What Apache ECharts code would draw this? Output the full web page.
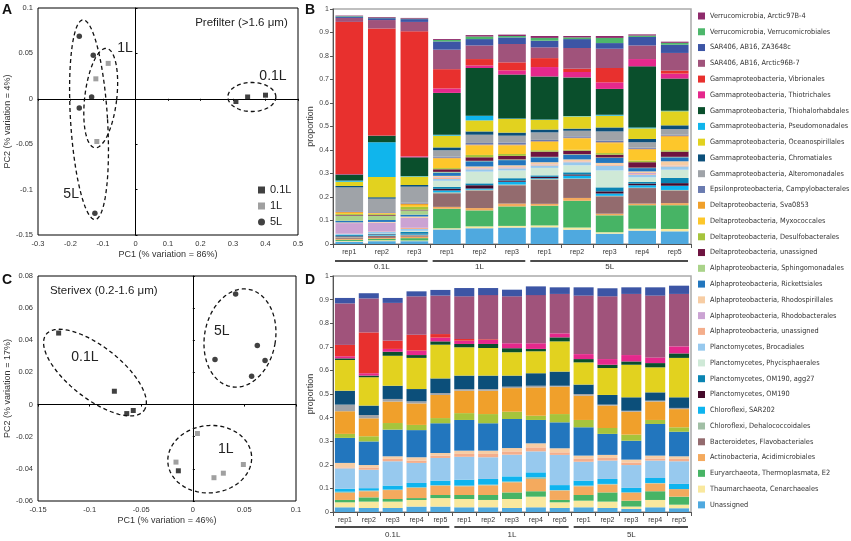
<!DOCTYPE html>
<html><head><meta charset="utf-8">
<script src="https://cdn.jsdelivr.net/npm/echarts@6/dist/echarts.min.js"></script>
<style>html,body{margin:0;padding:0;background:#fff}#c{width:851px;height:541px}</style>
</head><body><div id="c"></div>
<script>
// ---------- taxa (bottom of stack first) ----------
const taxa = [
 'Unassigned','Thaumarchaeota, Cenarchaeales','Euryarchaeota, Thermoplasmata, E2','Actinobacteria, Acidimicrobiales',
 'Bacteroidetes, Flavobacteriales','Chloroflexi, Dehalococcoidales','Chloroflexi, SAR202','Planctomycetes, OM190',
 'Planctomycetes, OM190, agg27','Planctomycetes, Phycisphaerales','Planctomycetes, Brocadiales','Alphaproteobacteria, unassigned',
 'Alphaproteobacteria, Rhodobacterales','Alphaproteobacteria, Rhodospirillales','Alphaproteobacteria, Rickettsiales','Alphaproteobacteria, Sphingomonadales',
 'Deltaproteobacteria, unassigned','Deltaproteobacteria, Desulfobacterales','Deltaproteobacteria, Myxococcales','Deltaproteobacteria, Sva0853',
 'Epsilonproteobacteria, Campylobacterales','Gammaproteobacteria, Alteromonadales','Gammaproteobacteria, Chromatiales','Gammaproteobacteria, Oceanospirillales',
 'Gammaproteobacteria, Pseudomonadales','Gammaproteobacteria, Thiohalorhabdales','Gammaproteobacteria, Thiotrichales','Gammaproteobacteria, Vibrionales',
 'SAR406, AB16, Arctic96B-7','SAR406, AB16, ZA3648c','Verrucomicrobia, Verrucomicrobiales','Verrucomicrobia, Arctic97B-4'];
const taxaColors = [
 '#4fa9df','#f9e89e','#47b465','#f4aa5e','#936b6e','#a1bfa5','#0eb4ef','#450a2a',
 '#0a84b2','#cfe9d7','#97c9ee','#f4ae8c','#cba3d3','#f7cda4','#2276be','#aad38a',
 '#6e1440','#a6c43c','#fdc72b','#f0a02b','#6a7bb0','#9fa3a8','#0c4f7a','#e2d21f',
 '#10b5ec','#0a4f2c','#e5288c','#e8302e','#a0537b','#3c55a5','#4db76b','#8e2a6b'];

// ---------- Panel B: Prefilter (>1.6 um) proportions, one array per sample, taxa order as above ----------
const pre_01L_rep1 = [0.010,0.003,0.005,0.004,0.006,0.002,0.002,0.002,0.004,0.001,0.004,0.001,0.045,0.003,0.007,0.022,0.003,0.004,0.004,0.004,0.003,0.102,0.006,0.018,0.005,0.026,0.002,0.647,0.017,0.006,0.002,0.002];
const pre_01L_rep2 = [0.012,0.004,0.006,0.004,0.008,0.002,0.003,0.002,0.003,0.002,0.005,0.002,0.038,0.003,0.008,0.018,0.003,0.004,0.003,0.003,0.003,0.057,0.006,0.086,0.148,0.028,0.001,0.455,0.036,0.008,0.002,0.003];
const pre_01L_rep3 = [0.012,0.003,0.010,0.006,0.006,0.002,0.003,0.002,0.008,0.004,0.008,0.005,0.042,0.006,0.008,0.018,0.003,0.012,0.008,0.006,0.004,0.068,0.007,0.036,0.002,0.080,0.004,0.532,0.040,0.012,0.002,0.003];
const pre_1L_rep1 = [0.062,0.005,0.083,0.008,0.058,0.004,0.008,0.007,0.008,0.026,0.008,0.004,0.003,0.006,0.014,0.003,0.011,0.005,0.040,0.004,0.005,0.027,0.012,0.050,0.004,0.178,0.019,0.082,0.083,0.035,0.006,0.004];
const pre_1L_rep2 = [0.067,0.008,0.068,0.010,0.075,0.003,0.005,0.014,0.008,0.050,0.010,0.003,0.002,0.007,0.022,0.002,0.015,0.010,0.040,0.004,0.007,0.035,0.014,0.047,0.020,0.203,0.011,0.027,0.058,0.027,0.011,0.006];
const pre_1L_rep3 = [0.070,0.007,0.083,0.012,0.078,0.003,0.012,0.005,0.010,0.033,0.009,0.003,0.002,0.008,0.022,0.003,0.015,0.008,0.036,0.004,0.009,0.029,0.013,0.058,0.002,0.187,0.018,0.034,0.078,0.028,0.006,0.006];
const pre_5L_rep1 = [0.071,0.008,0.084,0.008,0.103,0.003,0.003,0.006,0.006,0.032,0.010,0.003,0.002,0.009,0.021,0.002,0.022,0.006,0.035,0.003,0.006,0.032,0.012,0.041,0.002,0.183,0.040,0.038,0.046,0.028,0.012,0.008];
const pre_5L_rep2 = [0.061,0.009,0.114,0.012,0.081,0.002,0.012,0.005,0.009,0.030,0.013,0.003,0.001,0.008,0.020,0.002,0.015,0.004,0.048,0.003,0.006,0.024,0.009,0.052,0.002,0.164,0.023,0.014,0.088,0.038,0.007,0.006];
const pre_5L_rep3 = [0.044,0.006,0.072,0.007,0.074,0.002,0.010,0.009,0.017,0.072,0.020,0.003,0.001,0.008,0.021,0.002,0.012,0.007,0.042,0.004,0.007,0.039,0.017,0.050,0.004,0.110,0.028,0.061,0.082,0.024,0.022,0.008];
const pre_5L_rep4 = [0.057,0.008,0.100,0.007,0.066,0.002,0.010,0.007,0.007,0.020,0.010,0.003,0.005,0.007,0.014,0.002,0.023,0.007,0.046,0.004,0.005,0.023,0.014,0.045,0.004,0.260,0.031,0.000,0.058,0.036,0.006,0.005];
const pre_5L_rep5 = [0.054,0.010,0.101,0.009,0.054,0.002,0.018,0.011,0.022,0.035,0.014,0.003,0.001,0.018,0.017,0.002,0.022,0.006,0.057,0.005,0.004,0.024,0.016,0.060,0.002,0.137,0.021,0.013,0.075,0.035,0.008,0.005];
const prefilterSamples = ['0.1L|rep1','0.1L|rep2','0.1L|rep3','1L|rep1','1L|rep2','1L|rep3','5L|rep1','5L|rep2','5L|rep3','5L|rep4','5L|rep5'];

// ---------- Panel D: Sterivex (0.2-1.6 um) ----------
const ste_01L_rep1 = [0.020,0.021,0.010,0.030,0,0.005,0.013,0,0,0,0.086,0.004,0,0.019,0.106,0,0,0.017,0,0.096,0,0.028,0.059,0.130,0,0.007,0.009,0.048,0.176,0.023,0,0];
const ste_01L_rep2 = [0.017,0.027,0.018,0.026,0,0.003,0.010,0,0,0,0.078,0.010,0,0.010,0.100,0,0,0.022,0,0.076,0,0.014,0.040,0.120,0,0.007,0.010,0.173,0.144,0.022,0,0];
const ste_01L_rep3 = [0.017,0.027,0.011,0.038,0,0.002,0.017,0,0,0,0.103,0.010,0,0.011,0.113,0,0,0.028,0,0.091,0,0.011,0.056,0.127,0,0.017,0.012,0.035,0.160,0.021,0,0];
const ste_01L_rep4 = [0.023,0.028,0.008,0.043,0,0.003,0.018,0,0,0,0.085,0.010,0,0.014,0.115,0,0,0.022,0,0.091,0,0.009,0.052,0.132,0,0.012,0.019,0.067,0.163,0.021,0,0];
const ste_01L_rep5 = [0.023,0.036,0.013,0.039,0,0.003,0.019,0,0,0,0.096,0.010,0,0.011,0.126,0,0,0.022,0,0.098,0,0.008,0.062,0.143,0,0.014,0.016,0.015,0.163,0.024,0,0];
const ste_1L_rep1 = [0.020,0.035,0.017,0.037,0,0.003,0.025,0,0,0,0.097,0.012,0,0.014,0.130,0,0,0.029,0,0.095,0,0.007,0.057,0.120,0,0.014,0.014,0.007,0.181,0.035,0,0];
const ste_1L_rep2 = [0.020,0.031,0.021,0.041,0,0.003,0.024,0,0,0,0.092,0.014,0,0.014,0.116,0,0,0.039,0,0.099,0,0.007,0.057,0.117,0,0.017,0.017,0.003,0.187,0.030,0,0];
const ste_1L_rep3 = [0.017,0.038,0.028,0.043,0,0.003,0.022,0,0,0,0.092,0.014,0,0.014,0.123,0,0,0.031,0,0.100,0,0.006,0.047,0.099,0,0.017,0.021,0,0.199,0.028,0,0];
const ste_1L_rep4 = [0.020,0.045,0.023,0.052,0,0.007,0.021,0,0,0,0.089,0.017,0,0.017,0.099,0,0,0.018,0,0.120,0,0.007,0.053,0.093,0,0.010,0.024,0,0.204,0.037,0,0];
const ste_1L_rep5 = [0.017,0.024,0.010,0.040,0,0.002,0.021,0,0,0,0.128,0.011,0,0.017,0.110,0,0,0.035,0,0.116,0,0.004,0.060,0.128,0,0.017,0.017,0,0.167,0.028,0,0];
const ste_5L_rep1 = [0.020,0.028,0.024,0.037,0,0.003,0.021,0,0,0,0.080,0.014,0,0.012,0.120,0,0,0.031,0,0.103,0,0.007,0.040,0.094,0,0.014,0.021,0,0.248,0.035,0,0];
const ste_5L_rep2 = [0.017,0.027,0.039,0.033,0,0.003,0.021,0,0,0,0.078,0.011,0,0.013,0.089,0,0,0.025,0,0.095,0,0.004,0.041,0.114,0,0.014,0.024,0,0.266,0.034,0,0];
const ste_5L_rep3 = [0.013,0.010,0.025,0.035,0,0,0.019,0,0,0,0.097,0.011,0,0.012,0.080,0,0,0.026,0,0.097,0,0.004,0.057,0.138,0,0.014,0.027,0,0.259,0.028,0,0];
const ste_5L_rep4 = [0.020,0.031,0.037,0.033,0,0.002,0.021,0,0,0,0.074,0.009,0,0.012,0.134,0,0,0.017,0,0.078,0,0.004,0.035,0.106,0,0.018,0.024,0,0.262,0.035,0,0];
const ste_5L_rep5 = [0.016,0.015,0.034,0.032,0,0,0.022,0,0,0,0.096,0.010,0,0.011,0.104,0,0,0.019,0,0.077,0,0.005,0.045,0.167,0,0.019,0.030,0,0.222,0.035,0,0];
const sterivexSamples = ['0.1L|rep1','0.1L|rep2','0.1L|rep3','0.1L|rep4','0.1L|rep5','1L|rep1','1L|rep2','1L|rep3','1L|rep4','1L|rep5','5L|rep1','5L|rep2','5L|rep3','5L|rep4','5L|rep5'];
const volumeGroups = ['0.1L','1L','5L'];

// ---------- Panel A: PCA Prefilter ----------
const pcaA_01L = [[0.309,-0.003],[0.345,0.002],[0.400,0.004]];
const pcaA_1L  = [[-0.084,0.039],[-0.122,0.022],[-0.119,-0.047]];
const pcaA_5L  = [[-0.173,0.069],[-0.130,0.048],[-0.135,0.002],[-0.173,-0.010],[-0.125,-0.126]];
// ---------- Panel C: PCA Sterivex ----------
const pcaC_01L = [[-0.130,0.0445],[-0.076,0.0083],[-0.064,-0.0056],[-0.0577,-0.0037],[-0.014,-0.0412]];
const pcaC_1L  = [[0.0045,-0.018],[-0.0163,-0.0358],[0.0205,-0.0455],[0.0296,-0.0427],[0.049,-0.0373]];
const pcaC_5L  = [[0.0415,0.0688],[0.0625,0.0368],[0.070,0.0275],[0.0215,0.028],[0.057,0.0176]];

// ---------- annotations (group ellipses: centre in data units, semi-axes in px, rotation deg) ----------
const ellipsesA = [
  {cx:-0.143, cy:-0.023, a:18.5, b:100, rot:3.5},
  {cx:-0.107, cy:0.0008, a:16, b:50, rot:-6.7},
  {cx:0.358, cy:0.002, a:24, b:14.5, rot:0}];
const ellipsesC = [
  {cx:-0.0948, cy:0.0199, a:62, b:26, rot:-38},
  {cx:0.0457, cy:0.0414, a:35.5, b:49.5, rot:-10},
  {cx:0.0164, cy:-0.034, a:42, b:33.7, rot:5}];
const labelsA = [
  {x:-0.032, y:0.056, text:'1L', size:14},
  {x:0.423, y:0.0246, text:'0.1L', size:14},
  {x:-0.198, y:-0.105, text:'5L', size:14},
  {x:0.326, y:0.0833, text:'Prefilter (>1.6 \u03bcm)', size:11.5}];
const labelsC = [
  {x:-0.1045, y:0.0296, text:'0.1L', size:14},
  {x:0.028, y:0.0455, text:'5L', size:14},
  {x:0.0319, y:-0.028, text:'1L', size:14},
  {x:-0.0863, y:0.071, text:'Sterivex (0.2-1.6 \u03bcm)', size:11.5}];

const FONT = 'Liberation Sans, Arial, sans-serif';
// pick a narrow font for the long legend, if one is installed, and fit its size to the reference width
const measureCtx = document.createElement('canvas').getContext('2d');
function fontExists(f){ measureCtx.font='20px monospace'; const a=measureCtx.measureText('Gammaproteobacteria mmmWW').width;
  measureCtx.font='20px "'+f+'", monospace'; return Math.abs(measureCtx.measureText('Gammaproteobacteria mmmWW').width-a)>0.5; }
const narrowCandidates = ['Liberation Sans Narrow','DejaVu Sans Condensed','Roboto Condensed','Open Sans Condensed','Liberation Sans'];
const LEGEND_FONT = (narrowCandidates.find(fontExists) || 'Liberation Sans');
measureCtx.font = '10px "'+LEGEND_FONT+'"';
const longest = Math.max(...taxa.map(t=>measureCtx.measureText(t).width));
const LEGEND_SIZE = Math.min(9, Math.round(10*139/longest*10)/10);

const chart = echarts.init(document.getElementById('c'), null, {renderer:'canvas'});
const prefilterData = [pre_01L_rep1,pre_01L_rep2,pre_01L_rep3,pre_1L_rep1,pre_1L_rep2,pre_1L_rep3,pre_5L_rep1,pre_5L_rep2,pre_5L_rep3,pre_5L_rep4,pre_5L_rep5];
const sterivexData = [ste_01L_rep1,ste_01L_rep2,ste_01L_rep3,ste_01L_rep4,ste_01L_rep5,ste_1L_rep1,ste_1L_rep2,ste_1L_rep3,ste_1L_rep4,ste_1L_rep5,ste_5L_rep1,ste_5L_rep2,ste_5L_rep3,ste_5L_rep4,ste_5L_rep5];

function pcaAxes(grid, xr, yr, xName, yName) {
  const lab = {fontSize:7.5, color:'#333', fontFamily:FONT};
  return {
    x: [
      {gridIndex:grid, type:'value', min:xr[0], max:xr[1], interval:xr[2], axisLine:{show:false, onZero:false}, axisTick:{show:false}, splitLine:{show:false},
       axisLabel:{...lab, margin:5}, name:xName, nameLocation:'middle', nameGap:15, nameTextStyle:{fontSize:9, color:'#333', fontFamily:FONT}},
      {gridIndex:grid, type:'value', position:'bottom', min:xr[0], max:xr[1], interval:xr[2], axisLine:{show:true, onZero:true, lineStyle:{color:'#000', width:1}},
       axisTick:{show:true, length:2, lineStyle:{color:'#000'}}, axisLabel:{show:false}, splitLine:{show:false}}],
    y: [
      {gridIndex:grid, type:'value', min:yr[0], max:yr[1], interval:yr[2], axisLine:{show:false, onZero:false}, axisTick:{show:false}, splitLine:{show:false},
       axisLabel:{...lab, margin:5}, name:yName, nameLocation:'middle', nameGap:23, nameTextStyle:{fontSize:9, color:'#333', fontFamily:FONT}},
      {gridIndex:grid, type:'value', position:'left', min:yr[0], max:yr[1], interval:yr[2], axisLine:{show:true, onZero:true, lineStyle:{color:'#000', width:1}},
       axisTick:{show:true, inside:true, length:2, lineStyle:{color:'#000'}}, axisLabel:{show:false}, splitLine:{show:false}}]
  };
}
const axA = pcaAxes(0, [-0.3,0.5,0.1], [-0.15,0.1,0.05], 'PC1 (% variation = 86%)', 'PC2 (% variation = 4%)');
const axC = pcaAxes(2, [-0.15,0.1,0.05], [-0.06,0.08,0.02], 'PC1 (% variation = 46%)', 'PC2 (% variation = 17%)');
function barAxes(grid, samples) {
  return {
    x: {gridIndex:grid, type:'category', data:samples, axisLine:{show:true, lineStyle:{color:'#555', width:1}},
        axisTick:{show:true, length:4, lineStyle:{color:'#555'}}, splitLine:{show:false},
        axisLabel:{fontSize:7, color:'#333', margin:5, fontFamily:FONT, formatter:v=>v.split('|')[1]}},
    y: {gridIndex:grid, type:'value', min:0, max:1, interval:0.1, axisLine:{show:true, lineStyle:{color:'#555', width:1}},
        axisTick:{show:true, length:3, lineStyle:{color:'#555'}}, splitLine:{show:false},
        axisLabel:{fontSize:7, color:'#444', margin:4, fontFamily:FONT}, name:'proportion', nameLocation:'middle', nameGap:15,
        nameTextStyle:{fontSize:9, color:'#333', fontFamily:FONT}}
  };
}
const axB = barAxes(1, prefilterSamples);
const axD = barAxes(3, sterivexSamples);
// axis index map: x: [A0, A1, B, C0, C1, D]
const xAxes = [axA.x[0], axA.x[1], axB.x, axC.x[0], axC.x[1], axD.x];
const yAxes = [axA.y[0], axA.y[1], axB.y, axC.y[0], axC.y[1], axD.y];

function ellipseSeries(list, ax) {
  return {type:'custom', name:'ellipse'+ax, xAxisIndex:ax, yAxisIndex:ax, silent:true, z:3,
    data:list.map(e=>[e.cx,e.cy]),
    renderItem:(params, api)=>{
      const e = list[params.dataIndex];
      const c = api.coord([api.value(0), api.value(1)]);
      const th = e.rot*Math.PI/180, pts=[];
      for (let k=0;k<90;k++){ const t=k/90*2*Math.PI; const x=e.a*Math.cos(t), y=e.b*Math.sin(t);
        pts.push([c[0]+x*Math.cos(th)-y*Math.sin(th), c[1]-(x*Math.sin(th)+y*Math.cos(th))]); }
      return {type:'polygon', shape:{points:pts}, style:{fill:'none', stroke:'#111', lineWidth:1.3, lineDash:[4,3]}};
    }};
}
function labelSeries(list, ax) {
  return {type:'custom', name:'labels'+ax, xAxisIndex:ax, yAxisIndex:ax, silent:true, z:4,
    data:list.map(l=>[l.x,l.y]),
    renderItem:(params, api)=>{
      const l = list[params.dataIndex];
      const c = api.coord([api.value(0), api.value(1)]);
      return {type:'text', x:c[0], y:c[1], style:{text:l.text, fontSize:l.size, fontFamily:FONT, fill:'#222', align:'center', verticalAlign:'middle'}};
    }};
}
function scatter(name, data, ax, symbol, color, size) {
  return {type:'scatter', name, data, xAxisIndex:ax, yAxisIndex:ax, symbol, symbolSize:size, itemStyle:{color}, z:5, silent:true};
}

const series = [];
taxa.forEach((t,i)=>{
  series.push({type:'bar', name:t, stack:'B', xAxisIndex:2, yAxisIndex:2, barCategoryGap:'15%', itemStyle:{color:taxaColors[i], borderWidth:0},
    data:prefilterData.map(b=>b[i]), silent:true});
  series.push({type:'bar', name:t, stack:'D', xAxisIndex:5, yAxisIndex:5, barCategoryGap:'16%', itemStyle:{color:taxaColors[i], borderWidth:0},
    data:sterivexData.map(b=>b[i]), silent:true});
});
series.push(ellipseSeries(ellipsesA, 0), labelSeries(labelsA, 0));
series.push(ellipseSeries(ellipsesC, 3), labelSeries(labelsC, 3));
series.push(scatter('0.1L', pcaA_01L, 0, 'rect', '#111', 5), scatter('1L', pcaA_1L, 0, 'rect', '#888', 5), scatter('5L', pcaA_5L, 0, 'circle', '#111', 5.5));
series.push(scatter('C 0.1L', pcaC_01L, 3, 'rect', '#111', 5), scatter('C 1L', pcaC_1L, 3, 'rect', '#888', 5), scatter('C 5L', pcaC_5L, 3, 'circle', '#111', 5.5));

chart.setOption({
  animation:false,
  textStyle:{fontFamily:FONT},
  grid:[
    {left:38, top:8, width:260, height:227, show:true, borderColor:'#000', borderWidth:1, backgroundColor:'transparent'},
    {left:333, top:9, width:358, height:235, show:true, borderColor:'#aaa', borderWidth:1.5, backgroundColor:'transparent'},
    {left:38, top:276, width:258, height:225, show:true, borderColor:'#000', borderWidth:1, backgroundColor:'transparent'},
    {left:333, top:276, width:358, height:236, show:true, borderColor:'#aaa', borderWidth:1.5, backgroundColor:'transparent'}],
  xAxis:xAxes, yAxis:yAxes,
  legend:[
    {data:['0.1L','1L','5L'], orient:'vertical', left:258, top:184, padding:0, itemWidth:7, itemHeight:7, itemGap:4, selectedMode:false,
     textStyle:{fontSize:11, color:'#222', lineHeight:12, fontFamily:FONT}},
    {data:taxa.slice().reverse(), orient:'vertical', left:698, top:11, padding:0, itemWidth:7, itemHeight:7, itemGap:5.77, icon:'rect', selectedMode:false,
     textStyle:{fontSize:LEGEND_SIZE, color:'#333', lineHeight:10, fontFamily:LEGEND_FONT}}],
  series
});

function groupGraphics(xAxisIndex, yAxisIndex, samples, lineOff, textOff) {
  const out = [];
  const band = chart.convertToPixel({xAxisIndex}, samples[1]) - chart.convertToPixel({xAxisIndex}, samples[0]);
  const y0 = chart.convertToPixel({yAxisIndex}, 0);
  let start = 0;
  volumeGroups.forEach(g=>{
    const n = samples.filter(s=>s.split('|')[0]===g).length;
    const xa = chart.convertToPixel({xAxisIndex}, samples[start]) - band/2;
    const xb = chart.convertToPixel({xAxisIndex}, samples[start+n-1]) + band/2;
    out.push({type:'line', silent:true, shape:{x1:xa+2, y1:y0+lineOff, x2:xb-3, y2:y0+lineOff}, style:{stroke:'#111', lineWidth:1.6}});
    out.push({type:'text', silent:true, x:(xa+xb)/2, y:y0+textOff, style:{text:g, fontSize:8, fontFamily:FONT, fill:'#333', align:'center', verticalAlign:'middle'}});
    start += n;
  });
  return out;
}
const panelLetters = [['A',2,3],['B',305,3],['C',2,273],['D',305,273]].map(([t,x,y])=>({type:'text', silent:true, x, y,
  style:{text:t, fontSize:14, fontWeight:'bold', fontFamily:FONT, fill:'#111'}}));
chart.setOption({graphic:[...panelLetters, ...groupGraphics(2,2,prefilterSamples,17,23), ...groupGraphics(5,5,sterivexSamples,15,23)]});
</script></body></html>
